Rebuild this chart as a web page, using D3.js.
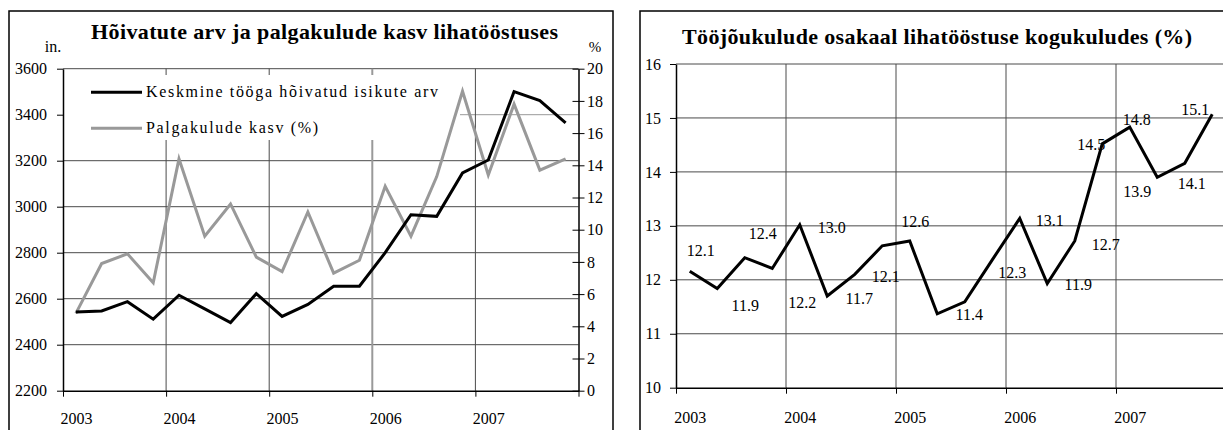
<!DOCTYPE html>
<html>
<head>
<meta charset="utf-8">
<script src="https://cdn.jsdelivr.net/npm/d3@7"></script>
<style>
  body { margin: 0; background: #fff; }
  svg text { font-family: "Liberation Serif", "Times New Roman", serif; fill: #000; }
</style>
</head>
<body>
<div id="charts"></div>
<script>
// quarters 2003 I ... 2007 IV
var quarters = ["2003 I", "2003 II", "2003 III", "2003 IV",
                "2004 I", "2004 II", "2004 III", "2004 IV",
                "2005 I", "2005 II", "2005 III", "2005 IV",
                "2006 I", "2006 II", "2006 III", "2006 IV",
                "2007 I", "2007 II", "2007 III", "2007 IV"];
var years = ["2003", "2004", "2005", "2006", "2007"];

// left chart: persons employed (left axis) and wage cost growth % (right axis)
var employed = [2542, 2547, 2587, 2511, 2615, 2556, 2496, 2622, 2523, 2575,
                2654, 2654, 2800, 2965, 2958, 3147, 3203, 3500, 3461, 3364];
var wageGrowth = [4.8, 7.9, 8.5, 6.7, 14.4, 9.6, 11.6, 8.3, 7.4, 11.1,
                  7.3, 8.1, 12.7, 9.6, 13.3, 18.6, 13.4, 17.8, 13.7, 14.4];
var leftTicks = [2200, 2400, 2600, 2800, 3000, 3200, 3400, 3600];
var rightTicks = [0, 2, 4, 6, 8, 10, 12, 14, 16, 18, 20];
var seriesNames = ["Keskmine tööga hõivatud isikute arv", "Palgakulude kasv (%)"];

// right chart: labour cost share in total costs (%)
var laborShare = [12.16, 11.84, 12.41, 12.21, 13.02, 11.70, 12.10, 12.63, 12.72, 11.37,
                  11.59, 12.37, 13.14, 11.93, 12.72, 14.52, 14.83, 13.90, 14.16, 15.07];
var shareLabels = ["12.1", "11.9", "12.4", "12.2", "13.0", "11.7", "12.1", "12.6", null, "11.4",
                   null, "12.3", "13.1", "11.9", "12.7", "14.5", "14.8", "13.9", "14.1", "15.1"];
var shareTicks = [10, 11, 12, 13, 14, 15, 16];

// where each value label sits relative to its point (dx, dy)
var labelOffsets = [[11, -21], [28, 17], [18, -24], [30, 34], [32, 3], [32, 2], [31, 2], [33, -24], null, [32, 1],
                    null, [20, 13], [30, 2], [31, 1], [31, 3], [-11, 1], [7, -8], [-20, 14], [7, 20], [-17, -5]];

var gridColor = "#4a4a4a";
var serif = "'Liberation Serif', 'Times New Roman', serif";

var svg = d3.select("#charts").append("svg")
    .attr("width", 1223)
    .attr("height", 430)
    .attr("font-family", serif);

svg.append("rect").attr("width", 1223).attr("height", 430).attr("fill", "#fff");

// quarter index of every year boundary
var bounds = years.map((d, i) => i * 4 - 0.5).concat([quarters.length - 0.5]);
var yearPos = years.map((d, i) => i * 4);

function styleAxis(g) {
    g.attr("font-family", serif).attr("font-size", null);
    g.selectAll(".domain").attr("stroke", "#000").attr("stroke-width", 1.5);
    g.selectAll(".tick line").attr("stroke", "#000");
    g.selectAll("text").attr("font-size", 16);
}

// ---------------- left chart ----------------
var L = {x0: 63, x1: 578.5, top: 68.7, bottom: 390.7};

var xL = d3.scaleLinear().domain([-0.5, quarters.length - 0.5]).range([L.x0, L.x1]);
var yL = d3.scaleLinear().domain([2200, 3600]).range([L.bottom, L.top]);
var yR = d3.scaleLinear().domain([0, 20]).range([L.bottom, L.top]);

svg.append("rect")
    .attr("x", 9).attr("y", 11)
    .attr("width", 604).attr("height", 440)
    .attr("fill", "none").attr("stroke", "#000").attr("stroke-width", 1.5);

svg.append("text")
    .attr("x", 324.5).attr("y", 39)
    .attr("text-anchor", "middle")
    .attr("font-size", 22).attr("font-weight", "bold")
    .attr("textLength", 467).attr("lengthAdjust", "spacing")
    .text("Hõivatute arv ja palgakulude kasv lihatööstuses");

svg.append("text").attr("x", 53).attr("y", 52).attr("text-anchor", "middle")
    .attr("font-size", 16).text("in.");
svg.append("text").attr("x", 595).attr("y", 52).attr("text-anchor", "middle")
    .attr("font-size", 15).text("%");

// gridlines
svg.append("g").selectAll("line")
    .data(leftTicks.slice(1))
    .enter().append("line")
    .attr("x1", L.x0).attr("x2", L.x1)
    .attr("y1", (d) => yL(d)).attr("y2", (d) => yL(d))
    .attr("stroke", (d) => d === 3400 ? "#999" : gridColor)
    .attr("stroke-width", 1);

svg.append("g").selectAll("line")
    .data(bounds.slice(1, -1))
    .enter().append("line")
    .attr("x1", (d) => xL(d)).attr("x2", (d) => xL(d))
    .attr("y1", L.top).attr("y2", L.bottom)
    .attr("stroke", (d, i) => i === 2 ? "#999" : gridColor)
    .attr("stroke-width", (d, i) => i === 2 ? 2 : 1);

// legend (white box hides the gridlines behind it)
svg.append("rect")
    .attr("x", L.x0 + 1).attr("y", 75)
    .attr("width", 460 - L.x0 - 1).attr("height", 65)
    .attr("fill", "#fff");

var legend = svg.append("g").selectAll("g")
    .data(seriesNames)
    .enter().append("g")
    .attr("transform", (d, i) => "translate(91," + (92.3 + i * 36) + ")");
legend.append("line")
    .attr("x1", 0).attr("x2", 51)
    .attr("stroke", (d, i) => i === 0 ? "#000" : "#999")
    .attr("stroke-width", 3);
legend.append("text")
    .attr("x", 55).attr("y", 5)
    .attr("font-size", 16)
    .attr("textLength", (d, i) => i === 0 ? 292 : 172)
    .attr("lengthAdjust", "spacing")
    .text((d) => d);

// axes
svg.append("g")
    .attr("transform", "translate(" + L.x0 + ",0)")
    .call(d3.axisLeft(yL).tickValues(leftTicks).tickFormat(d3.format("d"))
        .tickSize(6).tickSizeOuter(0).tickPadding(10))
    .call(styleAxis);

var axR = svg.append("g")
    .attr("transform", "translate(" + L.x1 + ",0)")
    .call(d3.axisRight(yR).tickValues(rightTicks).tickFormat(d3.format("d"))
        .tickSize(6).tickSizeOuter(0).tickPadding(2.5))
    .call(styleAxis);
axR.selectAll(".tick line").attr("x1", -6).attr("x2", 6);

svg.append("g")
    .attr("transform", "translate(0," + L.bottom + ")")
    .call(d3.axisBottom(xL).tickValues(bounds).tickSize(6).tickSizeOuter(0).tickFormat(""))
    .call(styleAxis);

svg.append("g")
    .attr("transform", "translate(0," + L.bottom + ")")
    .call(d3.axisBottom(xL).tickValues(yearPos).tickSize(0).tickPadding(22)
        .tickFormat((d, i) => years[i]))
    .call(styleAxis)
    .call((g) => g.select(".domain").remove());

// series
svg.append("path")
    .datum(wageGrowth)
    .attr("fill", "none")
    .attr("stroke", "#999")
    .attr("stroke-width", 3)
    .attr("d", d3.line().x((d, i) => xL(i)).y((d) => yR(d)));

svg.append("path")
    .datum(employed)
    .attr("fill", "none")
    .attr("stroke", "#000")
    .attr("stroke-width", 3)
    .attr("d", d3.line().x((d, i) => xL(i)).y((d) => yL(d)));

// ---------------- right chart ----------------
var R = {x0: 676, x1: 1226, top: 64, bottom: 387.7};

var xS = d3.scaleLinear().domain([-0.5, quarters.length - 0.5]).range([R.x0, R.x1]);
var yS = d3.scaleLinear().domain([10, 16]).range([R.bottom, R.top]);

svg.append("rect")
    .attr("x", 640).attr("y", 11)
    .attr("width", 620).attr("height", 440)
    .attr("fill", "none").attr("stroke", "#000").attr("stroke-width", 1.5);

svg.append("text")
    .attr("x", 937).attr("y", 44)
    .attr("text-anchor", "middle")
    .attr("font-size", 22).attr("font-weight", "bold")
    .attr("textLength", 510).attr("lengthAdjust", "spacing")
    .text("Tööjõukulude osakaal lihatööstuse kogukuludes (%)");

svg.append("g").selectAll("line")
    .data(shareTicks.slice(1))
    .enter().append("line")
    .attr("x1", R.x0).attr("x2", R.x1)
    .attr("y1", (d) => yS(d)).attr("y2", (d) => yS(d))
    .attr("stroke", gridColor).attr("stroke-width", 1);

svg.append("g").selectAll("line")
    .data(bounds.slice(1, -1))
    .enter().append("line")
    .attr("x1", (d) => xS(d)).attr("x2", (d) => xS(d))
    .attr("y1", R.top).attr("y2", R.bottom)
    .attr("stroke", gridColor).attr("stroke-width", 1);

svg.append("g")
    .attr("transform", "translate(" + R.x0 + ",0)")
    .call(d3.axisLeft(yS).tickValues(shareTicks).tickFormat(d3.format("d"))
        .tickSize(6).tickSizeOuter(0).tickPadding(9))
    .call(styleAxis);

svg.append("g")
    .attr("transform", "translate(0," + R.bottom + ")")
    .call(d3.axisBottom(xS).tickValues(bounds).tickSize(6).tickSizeOuter(0).tickFormat(""))
    .call(styleAxis);

svg.append("g")
    .attr("transform", "translate(0," + R.bottom + ")")
    .call(d3.axisBottom(xS).tickValues(yearPos).tickSize(0).tickPadding(24)
        .tickFormat((d, i) => years[i]))
    .call(styleAxis)
    .call((g) => g.select(".domain").remove());

svg.append("path")
    .datum(laborShare)
    .attr("fill", "none")
    .attr("stroke", "#000")
    .attr("stroke-width", 3)
    .attr("d", d3.line().x((d, i) => xS(i)).y((d) => yS(d)));

// value labels
svg.append("g").selectAll("text")
    .data(laborShare.map((v, i) => ({v: v, i: i, label: shareLabels[i], off: labelOffsets[i]}))
        .filter((d) => d.label !== null))
    .enter().append("text")
    .attr("x", (d) => xS(d.i) + d.off[0])
    .attr("y", (d) => yS(d.v) + d.off[1])
    .attr("dy", "0.35em")
    .attr("text-anchor", "middle")
    .attr("font-size", 16)
    .text((d) => d.label);
</script>
</body>
</html>
